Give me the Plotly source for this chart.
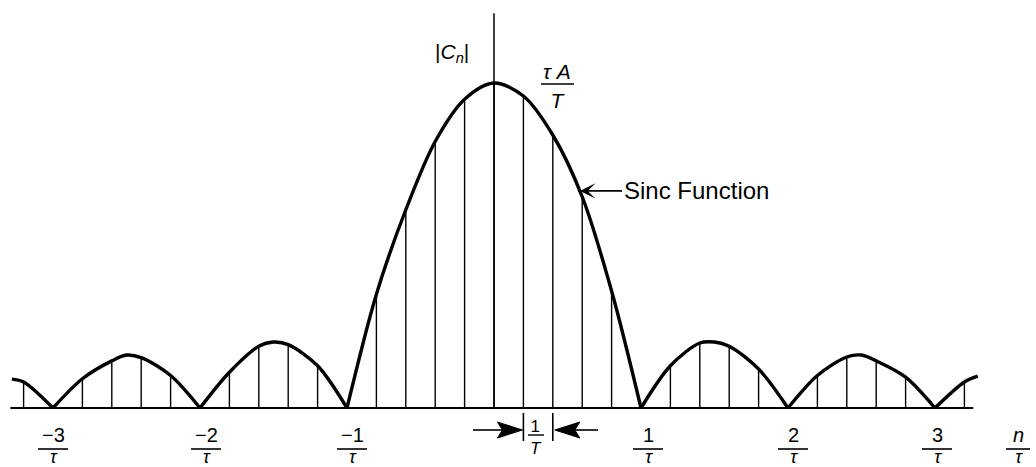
import plotly.graph_objects as go

W, H = 1036, 467

# Spectral line index n; lines are spaced 1/T and tau/T = 1/5,
# so line n sits at n/5 in units of 1/tau.
TAU_OVER_T = 0.2
line_index = [-16, -14, -13, -12, -11, -9, -8, -7, -6, -4, -3, -2, -1, 0,
              1, 2, 3, 4, 6, 7, 8, 9, 11, 12, 13, 14, 16]
line_height = [0.08, 0.09, 0.145, 0.155, 0.10, 0.11, 0.19, 0.195, 0.13,
               0.35, 0.61, 0.82, 0.95, 1.0, 0.96, 0.84, 0.65, 0.36,
               0.13, 0.20, 0.19, 0.12, 0.10, 0.157, 0.145, 0.095, 0.08]

# Envelope nulls, side-lobe crests and the two ends of the drawn curve
null_x = [-3, -2, -1, 1, 2, 3]
crest_x = [-2.5, -1.5, 1.5, 2.5]
crest_y = [0.163, 0.203, 0.203, 0.163]
end_x = [-3.28, 3.29]
end_y = [0.089, 0.098]

# Axis tick fractions k / tau
tick_pos = [-3, -2, -1, 1, 2, 3]
tick_num = ["\u22123", "\u22122", "\u22121", "1", "2", "3"]
tick_nudge = [0, 6, 5, 7, 5, 2]  # px offsets of the hand-set labels

# Axis ranges: 1/tau spans 147 px, unit height spans 325 px
X0_PX, UNIT_X_PX = 494, 147
BASE_PX, UNIT_Y_PX = 408, 325
X_RANGE = [-X0_PX / UNIT_X_PX, (W - X0_PX) / UNIT_X_PX]
Y_RANGE = [-(H - BASE_PX) / UNIT_Y_PX, BASE_PX / UNIT_Y_PX]

FONT = "Liberation Sans, Arial, sans-serif"
INK = "black"


def col(px):
    return px / W


def row(py):
    return 1 - py / H


def xpx(x):
    # data x -> pixel column
    return X0_PX + UNIT_X_PX * x


# Spectral lines as vertical segments
lx, ly = [], []
for n, h in zip(line_index, line_height):
    x = n * TAU_OVER_T
    lx += [x, x, None]
    ly += [0, h, None]

# Envelope points: line tops, nulls, crests and ends, split into lobes at nulls
pts = [(n * TAU_OVER_T, h) for n, h in zip(line_index, line_height)]
pts += list(zip(crest_x, crest_y)) + list(zip(end_x, end_y))
pts.sort()
ex, ey = [], []
bounds = [X_RANGE[0] - 1] + null_x + [X_RANGE[1] + 1]
for lo, hi in zip(bounds[:-1], bounds[1:]):
    seg = [p for p in pts if lo < p[0] < hi]
    if lo in null_x:
        seg = [(lo, 0.0)] + seg
    if hi in null_x:
        seg = seg + [(hi, 0.0)]
    ex += [p[0] for p in seg] + [None]
    ey += [p[1] for p in seg] + [None]

fig = go.Figure()
fig.add_trace(go.Scatter(x=lx, y=ly, mode="lines",
                         line=dict(color=INK, width=1.4), hoverinfo="skip"))
fig.add_trace(go.Scatter(x=ex, y=ey, mode="lines", connectgaps=False,
                         line=dict(color=INK, width=3.4, shape="spline", smoothing=0.9),
                         hoverinfo="skip"))

shapes = [
    # frequency axis
    dict(type="line", xref="x", yref="y", x0=-3.29, x1=3.26, y0=0, y1=0,
         line=dict(color=INK, width=2)),
    # vertical axis
    dict(type="line", xref="x", yref="y", x0=0, x1=0, y0=0, y1=1.215,
         line=dict(color=INK, width=1.5)),
]
annotations = []


def text(x, y, s, size, xref="paper", xanchor="center", xshift=0):
    annotations.append(dict(x=x, y=y, xref=xref, yref="paper", text=s,
                            showarrow=False, xanchor=xanchor, yanchor="middle",
                            xshift=xshift,
                            font=dict(family=FONT, size=size, color=INK)))


def bar(x0, x1, py, xref="paper", width=1.6):
    shapes.append(dict(type="line", xref=xref, yref="paper", x0=x0, x1=x1,
                       y0=row(py), y1=row(py), line=dict(color=INK, width=width)))


def frac(num, den, size):
    # numerator over denominator as one two-line label
    return (f"<span style='font-size:{size[0]}px'>{num}</span><br>"
            f"<span style='font-size:{size[1]}px'>{den}</span>")


def arrow(tip_px, tail_px, py, head_len=25, half_w=8, notch=5):
    # horizontal barbed arrow drawn in pixel units
    d = 1 if tail_px < tip_px else -1
    back = tip_px - d * head_len
    shapes.append(dict(type="line", xref="paper", yref="paper",
                       x0=col(tail_px), x1=col(back + d * notch),
                       y0=row(py), y1=row(py), line=dict(color=INK, width=1.6)))
    path = (f"M{col(tip_px)},{row(py)} L{col(back)},{row(py - half_w)} "
            f"L{col(back + d * notch)},{row(py)} L{col(back)},{row(py + half_w)} Z")
    shapes.append(dict(type="path", xref="paper", yref="paper", path=path,
                       fillcolor=INK, line=dict(color=INK, width=1)))


TAU = "<i>\u03c4</i>"

# tick fractions
for k, num, dx in zip(tick_pos, tick_num, tick_nudge):
    xc = (xpx(k) + dx) / W
    text(k, row(445), frac(num, TAU, (20, 18)), 16, xref="x", xshift=dx)
    bar(xc - 15 / W, xc + 15 / W, 449)

# n / tau axis caption
text(col(1018), row(445), frac("<i>n</i>", TAU, (20, 18)), 16)
bar(col(1006), col(1030), 449)

# |C_n| label
text(col(452), row(53), "|<i>C<sub>n</sub></i>|", 21)

# peak value tau A / T
text(col(557), row(86), frac("<i>\u03c4 A</i>", "<i>T</i>", (21, 21)), 22)
bar(col(541), col(574), 84)

# envelope callout with arrow to the curve
annotations.append(dict(x=0.585, y=0.668, xref="x", yref="y", text="Sinc Function",
                        showarrow=True, ax=42, ay=0, xanchor="left", yanchor="middle",
                        arrowhead=3, arrowsize=1.6, arrowwidth=1.6, arrowcolor=INK,
                        standoff=0, font=dict(family=FONT, size=24, color=INK)))

# line spacing 1/T marker
for n in (1, 2):
    xm = n * TAU_OVER_T
    shapes.append(dict(type="line", xref="x", yref="paper", x0=xm, x1=xm,
                       y0=row(413), y1=row(441), line=dict(color=INK, width=1.6)))
text(col(536), row(437), frac("1", "<i>T</i>", (17, 17)), 17)
bar(col(528), col(544), 435, width=1.4)
arrow(xpx(1 * TAU_OVER_T) - 1, 473, 430)
arrow(xpx(2 * TAU_OVER_T) + 2, 598, 430)

fig.update_layout(
    width=W, height=H,
    margin=dict(l=0, r=0, t=0, b=0),
    paper_bgcolor="white", plot_bgcolor="white",
    showlegend=False,
    xaxis=dict(range=X_RANGE, visible=False, fixedrange=True),
    yaxis=dict(range=Y_RANGE, visible=False, fixedrange=True),
    shapes=shapes,
    annotations=annotations,
)

fig.write_html("out.html", config={"displayModeBar": False})
